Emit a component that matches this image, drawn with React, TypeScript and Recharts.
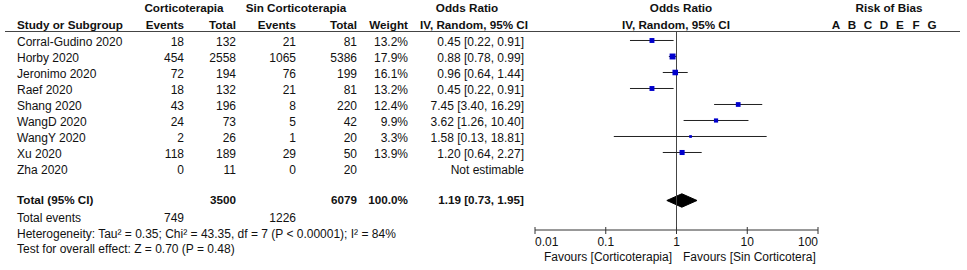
import React from "react";
import {
  ComposedChart,
  Scatter,
  ErrorBar,
  Area,
  XAxis,
  YAxis,
  ReferenceLine,
} from "recharts";

const studies = [
  "Corral-Gudino 2020",
  "Horby 2020",
  "Jeronimo 2020",
  "Raef 2020",
  "Shang 2020",
  "WangD 2020",
  "WangY 2020",
  "Xu 2020",
  "Zha 2020",
];
const eventsCorti = [18, 454, 72, 18, 43, 24, 2, 118, 0];
const totalCorti = [132, 2558, 194, 132, 196, 73, 26, 189, 11];
const eventsSin = [21, 1065, 76, 21, 8, 5, 1, 29, 0];
const totalSin = [81, 5386, 199, 81, 220, 42, 20, 50, 20];
const weights = [13.2, 17.9, 16.1, 13.2, 12.4, 9.9, 3.3, 13.9, null];
const oddsRatio = [0.45, 0.88, 0.96, 0.45, 7.45, 3.62, 1.58, 1.2, null];
const ciLow = [0.22, 0.78, 0.64, 0.22, 3.4, 1.26, 0.13, 0.64, null];
const ciHigh = [0.91, 0.99, 1.44, 0.91, 16.29, 10.4, 18.81, 2.27, null];

const pooledOR = 1.19;
const pooledLow = 0.73;
const pooledHigh = 1.95;
const sumTotalCorti = 3500;
const sumTotalSin = 6079;
const sumEventsCorti = 749;
const sumEventsSin = 1226;

const axisTicks = [0.01, 0.1, 1, 10, 100];
const biasDomains = ["A", "B", "C", "D", "E", "F", "G"];

const W = 967;
const H = 270;
const FONT = "'Liberation Sans', Arial, sans-serif";
const ROW0 = 40.5;
const ROWH = 16;
const TOTAL_ROW = 10;

const rowY = (i: number) => ROW0 + ROWH * i;

const studyPoints = studies
  .map((s, i) => ({
    x: oddsRatio[i],
    y: i,
    w: weights[i],
    err:
      oddsRatio[i] == null
        ? null
        : [oddsRatio[i]! - ciLow[i]!, ciHigh[i]! - oddsRatio[i]!],
  }))
  .filter((p) => p.x != null);

// pooled estimate diamond, drawn as a range area
const diamond = [
  { x: pooledLow, y: TOTAL_ROW, band: [TOTAL_ROW, TOTAL_ROW] },
  { x: pooledOR, y: TOTAL_ROW, band: [TOTAL_ROW - 0.42, TOTAL_ROW + 0.42] },
  { x: pooledHigh, y: TOTAL_ROW, band: [TOTAL_ROW, TOTAL_ROW] },
];

const fmt = (v: number) => v.toFixed(2);

type TxtProps = {
  x: number;
  y: number;
  align?: "left" | "right" | "center";
  bold?: boolean;
  children: React.ReactNode;
};

const Txt = ({ x, y, align = "left", bold, children }: TxtProps) => {
  const style: React.CSSProperties = {
    position: "absolute",
    top: y - 8,
    height: 16,
    lineHeight: "16px",
    fontSize: bold ? 11.7 : 12,
    fontWeight: bold ? "bold" : "normal",
    whiteSpace: "nowrap",
    color: "#111",
  };
  if (align === "left") style.left = x;
  if (align === "right") style.right = W - x;
  if (align === "center") {
    style.left = x - 150;
    style.width = 300;
    style.textAlign = "center";
  }
  return <div style={style}>{children}</div>;
};

const Square = (props: any) => {
  const { cx, cy } = props;
  const w = props.payload?.w ?? props.w ?? 10;
  const s = 2 + w * 0.22;
  return <rect x={cx - s / 2} y={cy - s / 2} width={s} height={s} fill="#0000CC" />;
};

const AxisTick = (props: any) => {
  const { x, y, payload, index } = props;
  const last = axisTicks.length - 1;
  const anchor = index === 0 ? "start" : index === last ? "end" : "middle";
  const axisY = y - 6; // tickSize 4 + tickMargin 2
  return (
    <g>
      <line x1={x} x2={x} y1={axisY - 3} y2={axisY + 4} stroke="#333" />
      <text
        x={x}
        y={y + 9.5}
        textAnchor={anchor}
        fontSize={12}
        fontFamily={FONT}
        fill="#111"
      >
        {payload.value}
      </text>
    </g>
  );
};

const colStudy = 17;
const colEv1 = 184;
const colTot1 = 236;
const colEv2 = 296;
const colTot2 = 357;
const colWeight = 408;
const colOR = 524;

export default function App() {
  const textOff = 1.5;
  return (
    <div
      style={{
        position: "fixed",
        left: 0,
        top: 0,
        width: W,
        height: H,
        background: "#fff",
        fontFamily: FONT,
        overflow: "hidden",
      }}
    >
      {/* header */}
      <Txt x={184} y={8} align="center" bold>Corticoterapia</Txt>
      <Txt x={296} y={8} align="center" bold>Sin Corticoterapia</Txt>
      <Txt x={467} y={8} align="center" bold>Odds Ratio</Txt>
      <Txt x={681} y={8} align="center" bold>Odds Ratio</Txt>
      <Txt x={889} y={8} align="center" bold>Risk of Bias</Txt>

      <Txt x={colStudy} y={24.5} bold>Study or Subgroup</Txt>
      <Txt x={colEv1} y={24.5} align="right" bold>Events</Txt>
      <Txt x={colTot1} y={24.5} align="right" bold>Total</Txt>
      <Txt x={colEv2} y={24.5} align="right" bold>Events</Txt>
      <Txt x={colTot2} y={24.5} align="right" bold>Total</Txt>
      <Txt x={colWeight} y={24.5} align="right" bold>Weight</Txt>
      <Txt x={colOR + 4} y={24.5} align="right" bold>IV, Random, 95% CI</Txt>
      <Txt x={676} y={24.5} align="center" bold>IV, Random, 95% CI</Txt>
      {biasDomains.map((d, i) => (
        <Txt key={d} x={836 + i * 16} y={24.5} align="center" bold>{d}</Txt>
      ))}
      <div
        style={{
          position: "absolute",
          left: 5,
          top: 31,
          width: 955,
          height: 0,
          borderTop: "1px solid #444",
        }}
      />

      {/* study rows */}
      {studies.map((s, i) => {
        const y = rowY(i) + textOff;
        return (
          <React.Fragment key={s}>
            <Txt x={colStudy} y={y}>{s}</Txt>
            <Txt x={colEv1} y={y} align="right">{eventsCorti[i]}</Txt>
            <Txt x={colTot1} y={y} align="right">{totalCorti[i]}</Txt>
            <Txt x={colEv2} y={y} align="right">{eventsSin[i]}</Txt>
            <Txt x={colTot2} y={y} align="right">{totalSin[i]}</Txt>
            {weights[i] != null && (
              <Txt x={colWeight} y={y} align="right">{weights[i]!.toFixed(1)}%</Txt>
            )}
            <Txt x={colOR} y={y} align="right">
              {oddsRatio[i] == null
                ? "Not estimable"
                : `${fmt(oddsRatio[i]!)} [${fmt(ciLow[i]!)}, ${fmt(ciHigh[i]!)}]`}
            </Txt>
          </React.Fragment>
        );
      })}

      {/* totals */}
      <Txt x={colStudy} y={200} bold>Total (95% CI)</Txt>
      <Txt x={colTot1} y={200} align="right" bold>{sumTotalCorti}</Txt>
      <Txt x={colTot2} y={200} align="right" bold>{sumTotalSin}</Txt>
      <Txt x={colWeight} y={200} align="right" bold>100.0%</Txt>
      <Txt x={colOR} y={200} align="right" bold>
        {`${fmt(pooledOR)} [${fmt(pooledLow)}, ${fmt(pooledHigh)}]`}
      </Txt>
      <Txt x={colStudy} y={218}>Total events</Txt>
      <Txt x={colEv1} y={218} align="right">{sumEventsCorti}</Txt>
      <Txt x={colEv2} y={218} align="right">{sumEventsSin}</Txt>
      <Txt x={colStudy} y={234}>
        Heterogeneity: Tau² = 0.35; Chi² = 43.35, df = 7 (P &lt; 0.00001); I² = 84%
      </Txt>
      <Txt x={colStudy} y={249}>Test for overall effect: Z = 0.70 (P = 0.48)</Txt>

      <Txt x={672} y={257} align="right">Favours [Corticoterapia]</Txt>
      <Txt x={683} y={257}>Favours [Sin Corticotera]</Txt>

      <div style={{ position: "absolute", left: 0, top: 0 }}>
        <ComposedChart
          width={W}
          height={H}
          margin={{ top: 32, right: 149, bottom: 0, left: 535 }}
        >
          <XAxis
            type="number"
            dataKey="x"
            scale="log"
            domain={[0.01, 100]}
            ticks={axisTicks}
            allowDataOverflow
            height={40}
            tickSize={4}
            tickLine={false}
            tick={<AxisTick />}
            stroke="#333"
            interval={0}
          />
          <YAxis
            type="number"
            dataKey="y"
            hide
            reversed
            domain={[-0.531, 11.844]}
            allowDataOverflow
          />
          <ReferenceLine x={1} stroke="#444" />
          <Area
            data={diamond}
            dataKey="band"
            type="linear"
            stroke="#000"
            fill="#000"
            fillOpacity={1}
            isAnimationActive={false}
            dot={false}
            activeDot={false}
          />
          <Scatter
            data={studyPoints}
            shape={<Square />}
            isAnimationActive={false}
          >
            <ErrorBar
              dataKey="err"
              direction="x"
              width={0}
              stroke="#222"
              strokeWidth={1}
            />
          </Scatter>
        </ComposedChart>
      </div>
    </div>
  );
}
